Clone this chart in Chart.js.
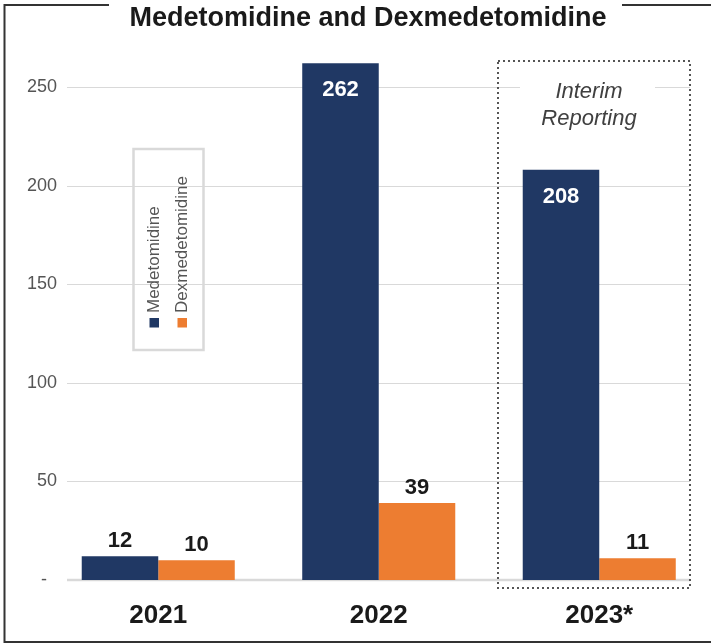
<!DOCTYPE html>
<html>
<head>
<meta charset="utf-8">
<script src="https://cdn.jsdelivr.net/npm/chart.js@4"></script>
<style>
  html, body { margin: 0; padding: 0; background: #fff; }
  #wrap { width: 711px; height: 644px; position: relative; }
</style>
</head>
<body>
<div id="wrap"><canvas id="chart"></canvas></div>
<script>
// values
const categories = ['2021', '2022', '2023*'];
const seriesNames = ['Medetomidine', 'Dexmedetomidine'];
const medetomidine = [12, 262, 208];
const dexmedetomidine = [10, 39, 11];
const yTickValues = [0, 50, 100, 150, 200, 250];
const yTickLabels = ['-', '50', '100', '150', '200', '250'];
const chartTitle = 'Medetomidine and Dexmedetomidine';
const noteLines = ['Interim', 'Reporting'];

const NAVY = '#203864';
const ORANGE = '#ED7D31';
const FONT = '"Liberation Sans", Arial, sans-serif';

// gridlines + y tick labels, under the bars
const gridPlugin = {
  id: 'gridPlugin',
  beforeDatasetsDraw(chart) {
    const { ctx } = chart;
    const y = chart.scales.y;
    ctx.save();
    yTickValues.forEach((v, i) => {
      const py = Math.round(y.getPixelForValue(v));
      ctx.strokeStyle = '#d9d9d9';
      ctx.lineWidth = v === 0 ? 2.5 : 1;
      ctx.beginPath();
      ctx.moveTo(67, py + (v === 0 ? 0 : 0.5));
      ctx.lineTo(690, py + (v === 0 ? 0 : 0.5));
      ctx.stroke();
      ctx.fillStyle = '#555';
      ctx.font = '18px ' + FONT;
      ctx.textAlign = 'right';
      ctx.textBaseline = 'middle';
      ctx.fillText(yTickLabels[i], v === 0 ? 47 : 57, py);
    });
    // white backing behind the note text
    ctx.fillStyle = '#fff';
    ctx.fillRect(520, 70, 135, 66);
    ctx.restore();
  }
};

const decorPlugin = {
  id: 'decorPlugin',
  afterDraw(chart) {
    const { ctx } = chart;
    ctx.save();

    // outer frame, open where the title sits
    ctx.strokeStyle = '#333';
    ctx.lineWidth = 2;
    ctx.beginPath();
    ctx.moveTo(109, 5); ctx.lineTo(4.5, 5); ctx.lineTo(4.5, 642); ctx.lineTo(711, 642);
    ctx.moveTo(622, 5); ctx.lineTo(711, 5);
    ctx.stroke();

    // title
    ctx.fillStyle = '#1a1a1a';
    ctx.font = 'bold 27px ' + FONT;
    ctx.textAlign = 'center';
    ctx.textBaseline = 'middle';
    ctx.fillText(chartTitle, 368, 19);

    // dotted box around the interim year
    ctx.strokeStyle = '#555';
    ctx.lineWidth = 2;
    ctx.setLineDash([2, 3]);
    ctx.strokeRect(498, 61, 192, 527);
    ctx.setLineDash([]);

    ctx.fillStyle = '#404040';
    ctx.font = 'italic 22px ' + FONT;
    ctx.fillText(noteLines[0], 589, 92);
    ctx.fillText(noteLines[1], 589, 119);

    // legend box with vertical entries
    ctx.strokeStyle = '#d9d9d9';
    ctx.lineWidth = 2.5;
    ctx.strokeRect(133.5, 149, 70, 201);
    const entries = [
      { x: 154, sq: 149.5 },
      { x: 182, sq: 177.5 }
    ];
    chart.data.datasets.forEach((ds, i) => {
      const e = entries[i];
      ctx.fillStyle = ds.backgroundColor;
      ctx.fillRect(e.sq, 318, 9.5, 9.5);
      ctx.save();
      ctx.translate(e.x, 313);
      ctx.rotate(-Math.PI / 2);
      ctx.fillStyle = '#555';
      ctx.font = '17px ' + FONT;
      ctx.textAlign = 'left';
      ctx.textBaseline = 'middle';
      ctx.fillText(ds.label, 0, 0);
      ctx.restore();
    });

    // value labels
    ctx.font = 'bold 22px ' + FONT;
    ctx.textAlign = 'center';
    ctx.textBaseline = 'middle';
    chart.data.datasets.forEach((ds, di) => {
      chart.getDatasetMeta(di).data.forEach((bar, i) => {
        const v = ds.data[i];
        if (v > 100) {
          ctx.fillStyle = '#fff';
          ctx.fillText(String(v), bar.x, bar.y + 27);
        } else {
          ctx.fillStyle = '#1a1a1a';
          ctx.fillText(String(v), bar.x, bar.y - 15);
        }
      });
    });
    ctx.restore();
  }
};

new Chart(document.getElementById('chart'), {
  type: 'bar',
  data: {
    labels: categories,
    datasets: [
      { label: seriesNames[0], data: medetomidine, backgroundColor: NAVY },
      { label: seriesNames[1], data: dexmedetomidine, backgroundColor: ORANGE }
    ]
  },
  options: {
    responsive: true,
    maintainAspectRatio: false,
    animation: false,
    devicePixelRatio: 1,
    layout: { padding: { left: 48, right: 1.5, top: 47.5, bottom: 0 } },
    datasets: { bar: { categoryPercentage: 0.694, barPercentage: 1, borderWidth: 0 } },
    plugins: { legend: { display: false }, tooltip: { enabled: false }, title: { display: false } },
    scales: {
      x: {
        grid: { display: false, drawTicks: false },
        border: { display: false },
        ticks: { color: '#1a1a1a', font: { family: FONT, size: 26, weight: 'bold' }, padding: 20 },
        afterFit(scale) { scale.height = 64; }
      },
      y: { display: false, min: 0, max: 270 }
    }
  },
  plugins: [gridPlugin, decorPlugin]
});
</script>
</body>
</html>
